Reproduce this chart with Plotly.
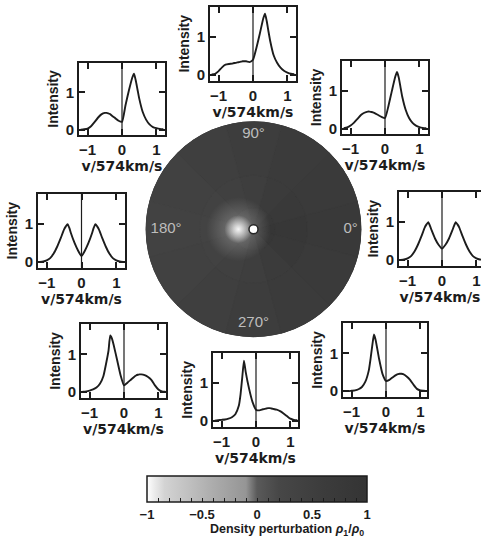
import plotly.graph_objects as go

W, H = 481, 543

# ---------------- data ----------------
velocity = [-1.2, -1.1, -1.0, -0.9, -0.8, -0.7, -0.6, -0.5, -0.45, -0.4, -0.35, -0.3, -0.2, -0.1,
            0.0, 0.1, 0.2, 0.3, 0.35, 0.4, 0.45, 0.5, 0.6, 0.7, 0.8, 0.9, 1.0, 1.1, 1.2]

profile_0 = [0.0, 0.01, 0.04, 0.1, 0.22, 0.4, 0.62, 0.86, 0.94, 1.0, 0.9, 0.78, 0.56, 0.4, 0.3,
             0.4, 0.56, 0.78, 0.9, 1.0, 0.94, 0.86, 0.62, 0.4, 0.22, 0.1, 0.04, 0.01, 0.0]
profile_45 = [0.01, 0.03, 0.08, 0.16, 0.26, 0.36, 0.42, 0.45, 0.45, 0.44, 0.43, 0.41, 0.36, 0.31, 0.28,
              0.6, 1.0, 1.38, 1.5, 1.35, 1.1, 0.85, 0.5, 0.28, 0.15, 0.08, 0.04, 0.02, 0.01]
profile_90 = [0.01, 0.03, 0.1, 0.2, 0.27, 0.29, 0.3, 0.32, 0.33, 0.34, 0.35, 0.36, 0.36, 0.34, 0.4,
              0.72, 1.1, 1.5, 1.62, 1.42, 1.15, 0.9, 0.52, 0.32, 0.19, 0.11, 0.06, 0.03, 0.02]
profile_135 = [0.0, 0.01, 0.03, 0.09, 0.2, 0.32, 0.41, 0.45, 0.45, 0.44, 0.42, 0.38, 0.31, 0.24, 0.21,
               0.65, 1.05, 1.4, 1.5, 1.32, 1.08, 0.84, 0.48, 0.27, 0.14, 0.07, 0.04, 0.02, 0.01]
profile_180 = [0.0, 0.01, 0.04, 0.1, 0.22, 0.4, 0.62, 0.86, 0.94, 1.0, 0.9, 0.75, 0.5, 0.3, 0.15,
               0.3, 0.5, 0.75, 0.9, 1.0, 0.94, 0.86, 0.62, 0.4, 0.22, 0.1, 0.04, 0.01, 0.0]
profile_225 = [0.01, 0.02, 0.04, 0.07, 0.12, 0.22, 0.42, 0.85, 1.1, 1.5, 1.42, 1.25, 0.85, 0.45, 0.18,
               0.25, 0.33, 0.41, 0.44, 0.46, 0.47, 0.47, 0.45, 0.4, 0.32, 0.18, 0.07, 0.02, 0.01]
profile_270 = [0.01, 0.02, 0.03, 0.04, 0.06, 0.1, 0.18, 0.4, 0.7, 1.15, 1.6, 1.3, 0.85, 0.5, 0.3,
               0.28, 0.31, 0.33, 0.34, 0.34, 0.33, 0.32, 0.3, 0.26, 0.2, 0.13, 0.06, 0.03, 0.02]
profile_315 = [0.0, 0.0, 0.01, 0.02, 0.05, 0.11, 0.25, 0.55, 0.85, 1.2, 1.5, 1.35, 0.85, 0.45, 0.27,
               0.3, 0.37, 0.43, 0.45, 0.46, 0.46, 0.45, 0.39, 0.3, 0.17, 0.06, 0.02, 0.01, 0.0]

x_ticks = [-1, 0, 1]
y_ticks = [0, 1]

# density perturbation map (12 sectors x 3 rings)
sector_angles = [0, 30, 60, 90, 120, 150, 180, 210, 240, 270, 300, 330]
ring_inner = [0.9, 0.8, 0.62, 0.48, 0.34, 0.25, 0.2, 0.25, 0.34, 0.48, 0.65, 0.85]
ring_mid = [0.85, 0.76, 0.64, 0.54, 0.45, 0.37, 0.33, 0.37, 0.45, 0.54, 0.64, 0.78]
ring_outer = [0.75, 0.71, 0.64, 0.57, 0.5, 0.43, 0.39, 0.43, 0.5, 0.57, 0.64, 0.71]
ring_thickness = [0.2, 0.3, 0.5]

angle_labels = ["0°", "90°", "180°", "270°"]
angle_label_theta = [0, 90, 180, 270]

cbar_tickvals = [-1, -0.9, -0.8, -0.7, -0.6, -0.5, -0.4, -0.3, -0.2, -0.1, 0,
                 0.1, 0.2, 0.3, 0.4, 0.5, 0.6, 0.7, 0.8, 0.9, 1]
cbar_ticktext = ["−1", "", "", "", "", "−0.5", "", "", "", "", "0",
                 "", "", "", "", "0.5", "", "", "", "", "1"]

# ---------------- styling ----------------
INK = "#1c1c1c"
colorscale = [[0.0, "#ffffff"], [0.03, "#ededed"], [0.08, "#d3d3d3"], [0.2, "#bebebe"],
              [0.3, "#acacac"], [0.45, "#959595"], [0.5, "#5a5a5a"], [0.6, "#474747"],
              [0.8, "#3c3c3c"], [1.0, "#343434"]]

tick_font = dict(family="Liberation Sans", size=15, color=INK, weight="bold")
xtitle_font = dict(family="DejaVu Sans", size=14, color=INK, weight="bold")
ytitle_font = dict(family="Liberation Sans", size=14, color=INK, weight="bold")

# panel boxes in pixels: (profile, left, right, top, bottom)
panels = [
    (profile_90, 210, 296, 7, 81),
    (profile_135, 79, 165, 63, 136),
    (profile_180, 38, 125, 195, 269),
    (profile_225, 81, 166, 326, 400),
    (profile_270, 213, 298, 355, 429),
    (profile_315, 343, 427, 325, 399),
    (profile_0, 399, 481, 193, 267),
    (profile_45, 342, 428, 61, 135),
]

fig = go.Figure()
layout = dict(width=W, height=H, margin=dict(l=0, r=0, t=0, b=0),
              paper_bgcolor="white", plot_bgcolor="white", showlegend=False)
shapes = []
unit_px = 86 / 2.5
for i, (prof, l, r, t, b) in enumerate(panels, start=1):
    xa = "x" if i == 1 else f"x{i}"
    ya = "y" if i == 1 else f"y{i}"
    fig.add_trace(go.Scatter(x=velocity, y=prof, xaxis=xa, yaxis=ya, mode="lines",
                             line=dict(color=INK, width=1.9, shape="spline", smoothing=0.5),
                             hoverinfo="skip"))
    xmax = -1.25 + (r - l) / unit_px
    common = dict(ticks="inside", ticklen=6, tickwidth=2, tickcolor=INK, showline=True,
                  linewidth=2, linecolor=INK, showgrid=False, zeroline=False,
                  tickfont=tick_font)
    layout["xaxis" if i == 1 else f"xaxis{i}"] = dict(
        common, domain=[l / W, r / W], range=[-1.25, min(xmax, 1.25)], tickvals=x_ticks,
        mirror="ticks", anchor=ya,
        title=dict(text="v/574km/s", font=xtitle_font, standoff=2))
    layout["yaxis" if i == 1 else f"yaxis{i}"] = dict(
        common, domain=[1 - b / H, 1 - t / H], range=[-0.15, 1.8], tickvals=y_ticks,
        mirror=("ticks" if r < W else False), anchor=xa,
        title=dict(text="Intensity", font=ytitle_font, standoff=4))
    shapes.append(dict(type="line", xref=xa, yref=f"{ya} domain", x0=0, x1=0, y0=0, y1=1,
                       line=dict(color=INK, width=1.2)))

# density disk
for ring, thick in zip([ring_inner, ring_mid, ring_outer], ring_thickness):
    fig.add_trace(go.Barpolar(theta=sector_angles, r=[thick] * len(sector_angles), width=30,
                              marker=dict(color=ring, coloraxis="coloraxis",
                                          line=dict(width=0.8, color=ring, coloraxis="coloraxis")),
                              hoverinfo="skip"))
# bright under-density glow near the centre and the central object
fig.add_trace(go.Scatterpolar(r=[0.14], theta=[180], mode="markers", hoverinfo="skip",
                              marker=dict(size=64, color="rgba(160,160,160,0)",
                                          gradient=dict(type="radial", color="rgba(165,165,165,0.6)"),
                                          line=dict(width=0))))
fig.add_trace(go.Scatterpolar(r=[0.14], theta=[180], mode="markers", hoverinfo="skip",
                              marker=dict(size=28, color="rgba(240,240,240,0)",
                                          gradient=dict(type="radial", color="rgba(246,246,246,1)"),
                                          line=dict(width=0))))
fig.add_trace(go.Scatterpolar(r=[0], theta=[0], mode="markers", hoverinfo="skip",
                              marker=dict(size=9, color="white", line=dict(width=1.5, color="#262626"))))
fig.add_trace(go.Scatterpolar(r=[0.9, 0.88, 0.81, 0.87], theta=angle_label_theta, mode="text",
                              text=angle_labels, hoverinfo="skip",
                              textfont=dict(family="Liberation Sans", size=15, color="#bdbdbd")))

layout["polar"] = dict(domain=dict(x=[145 / W, 362 / W], y=[1 - 339 / H, 1 - 122 / H]),
                       bgcolor="#3e3e3e", bargap=0,
                       radialaxis=dict(visible=False, range=[0, 1], showgrid=False, showline=False),
                       angularaxis=dict(visible=False, rotation=0, direction="counterclockwise",
                                        showgrid=False, showline=False))
layout["coloraxis"] = dict(
    colorscale=colorscale, cmin=-1, cmax=1,
    colorbar=dict(orientation="h", x=257 / W, xanchor="center", len=220 / W, lenmode="fraction",
                  y=1 - 479 / H, yanchor="top", thickness=26, xpad=0, ypad=0,
                  outlinewidth=1.5, outlinecolor=INK, tickvals=cbar_tickvals,
                  ticktext=cbar_ticktext, ticks="inside",
                  ticklen=4, tickwidth=1.3, tickcolor=INK,
                  tickfont=dict(family="Liberation Sans", size=13, color=INK, weight="bold")))
layout["shapes"] = shapes
layout["annotations"] = [dict(x=366 / W, y=1 - 533 / H, xref="paper", yref="paper",
                              xanchor="right", yanchor="middle", showarrow=False,
                              text="Density perturbation <i>ρ</i><sub>1</sub>/<i>ρ</i><sub>0</sub>",
                              font=dict(family="Liberation Sans", size=12.5, color=INK, weight="bold"))]
fig.update_layout(**layout)
fig.write_html("out.html", config={"displayModeBar": False},
               post_script="document.body.style.margin='0';")
